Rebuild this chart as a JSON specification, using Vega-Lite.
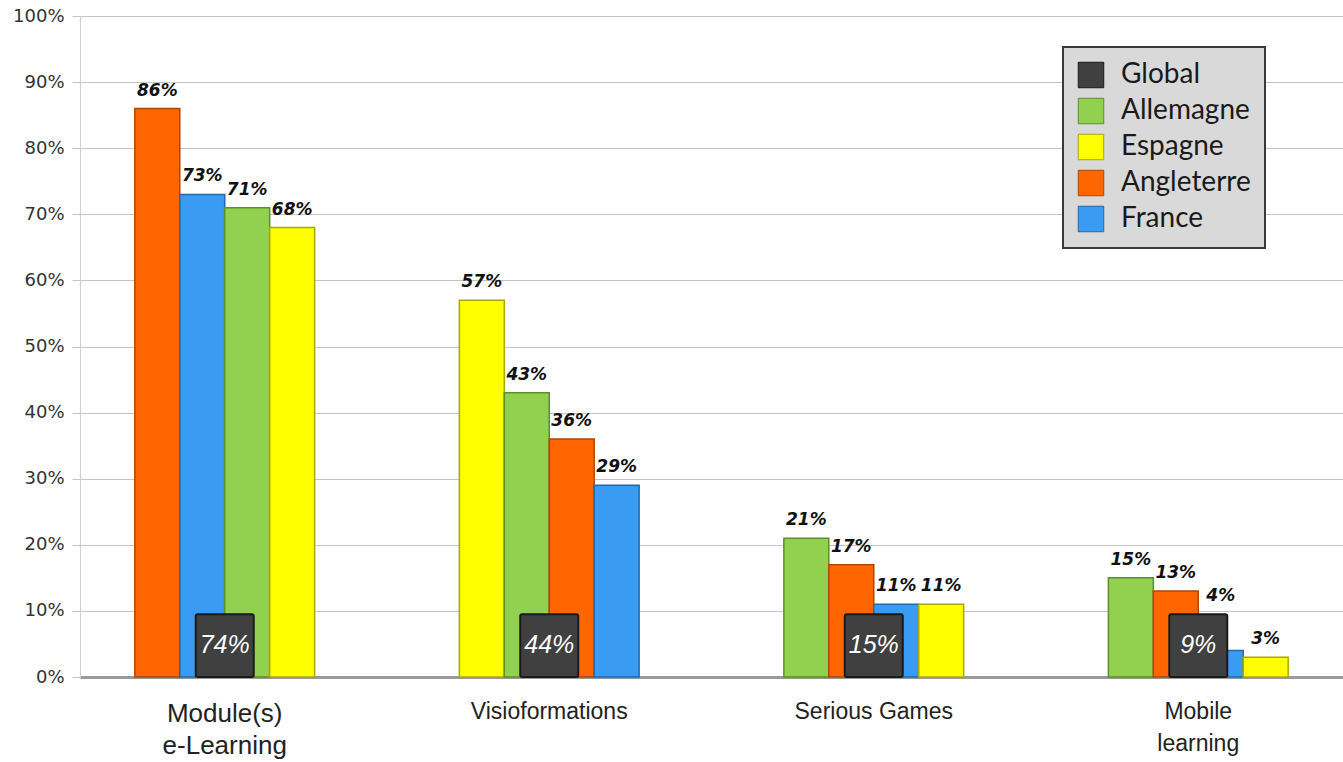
{
  "$schema": "https://vega.github.io/schema/vega-lite/v6.json",
  "width": 1263,
  "height": 661,
  "autosize": {"type": "none"},
  "padding": {"left": 80, "top": 16, "right": 0, "bottom": 85},
  "background": "white",
  "data": {"values": [
    {"categorie": "Module(s) e-Learning", "pays": "Angleterre", "valeur": 0.86},
    {"categorie": "Module(s) e-Learning", "pays": "France", "valeur": 0.73},
    {"categorie": "Module(s) e-Learning", "pays": "Allemagne", "valeur": 0.71},
    {"categorie": "Module(s) e-Learning", "pays": "Espagne", "valeur": 0.68},
    {"categorie": "Module(s) e-Learning", "pays": "Global", "valeur": 0.74},
    {"categorie": "Visioformations", "pays": "Espagne", "valeur": 0.57},
    {"categorie": "Visioformations", "pays": "Allemagne", "valeur": 0.43},
    {"categorie": "Visioformations", "pays": "Angleterre", "valeur": 0.36},
    {"categorie": "Visioformations", "pays": "France", "valeur": 0.29},
    {"categorie": "Visioformations", "pays": "Global", "valeur": 0.44},
    {"categorie": "Serious Games", "pays": "Allemagne", "valeur": 0.21},
    {"categorie": "Serious Games", "pays": "Angleterre", "valeur": 0.17},
    {"categorie": "Serious Games", "pays": "France", "valeur": 0.11},
    {"categorie": "Serious Games", "pays": "Espagne", "valeur": 0.11},
    {"categorie": "Serious Games", "pays": "Global", "valeur": 0.15},
    {"categorie": "Mobile learning", "pays": "Allemagne", "valeur": 0.15},
    {"categorie": "Mobile learning", "pays": "Angleterre", "valeur": 0.13},
    {"categorie": "Mobile learning", "pays": "France", "valeur": 0.04},
    {"categorie": "Mobile learning", "pays": "Espagne", "valeur": 0.03},
    {"categorie": "Mobile learning", "pays": "Global", "valeur": 0.09}
  ]},
  "encoding": {
    "x": {
      "field": "categorie", "type": "nominal", "sort": null,
      "scale": {"paddingInner": 0.446, "paddingOuter": 0.169},
      "axis": {
        "title": null,
        "labelAngle": 0,
        "labelFont": "Liberation Sans",
        "labelFontSize": {"condition": {"test": "datum.value == 'Module(s) e-Learning'", "value": 26}, "value": 23},
        "labelColor": "#222222",
        "labelPadding": 23,
        "labelLineHeight": 32,
        "ticks": false,
        "domainColor": "#9a9a9a",
        "domainWidth": 3,
        "labelExpr": "datum.value == 'Module(s) e-Learning' ? ['Module(s)', 'e-Learning'] : datum.value == 'Mobile learning' ? ['Mobile', 'learning'] : datum.value"
      }
    }
  },
  "layer": [
    {
      "transform": [
        {"filter": "datum.pays != 'Global'"},
        {"window": [{"op": "row_number", "as": "rang"}], "groupby": ["categorie"], "sort": [{"field": "valeur", "order": "descending"}, {"field": "pays", "order": "descending"}]}
      ],
      "mark": {"type": "bar", "strokeWidth": 1.5},
      "encoding": {
        "xOffset": {"field": "rang", "type": "ordinal", "scale": {"paddingInner": 0, "paddingOuter": 0}},
        "y": {
          "field": "valeur", "type": "quantitative",
          "scale": {"domain": [0, 1]},
          "axis": {
            "title": null, "format": ".0%", "values": [0, 0.1, 0.2, 0.3, 0.4, 0.5, 0.6, 0.7, 0.8, 0.9, 1],
            "labelFont": "DejaVu Sans", "labelFontSize": 18, "labelColor": "#333333", "labelPadding": 8,
            "gridColor": "#c4c4c4", "tickColor": "#c4c4c4", "tickSize": 8, "domainColor": "#d0d0d0"
          }
        },
        "color": {
          "field": "pays", "type": "nominal",
          "scale": {"domain": ["Global", "Allemagne", "Espagne", "Angleterre", "France"], "range": ["#404040", "#92D050", "#FFFF00", "#FF6600", "#3A9BF2"]},
          "legend": {"title": null}
        },
        "stroke": {
          "field": "pays", "type": "nominal",
          "scale": {"domain": ["Global", "Allemagne", "Espagne", "Angleterre", "France"], "range": ["#1a1a1a", "#5E8F2A", "#A8A800", "#B04600", "#1E6AB0"]},
          "legend": null
        }
      }
    },
    {
      "transform": [
        {"filter": "datum.pays != 'Global'"},
        {"window": [{"op": "row_number", "as": "rang"}], "groupby": ["categorie"], "sort": [{"field": "valeur", "order": "descending"}, {"field": "pays", "order": "descending"}]},
        {"filter": "!(datum.valeur < 0.095 && (datum.rang == 2 || datum.rang == 3))"}
      ],
      "mark": {"type": "text", "font": "DejaVu Sans", "fontSize": 17, "fontWeight": "bold", "fontStyle": "italic", "color": "#111111", "dy": -18},
      "encoding": {
        "xOffset": {"field": "rang", "type": "ordinal"},
        "y": {"field": "valeur", "type": "quantitative"},
        "text": {"field": "valeur", "type": "quantitative", "format": ".0%"}
      }
    },
    {
      "transform": [{"filter": "datum.pays == 'Global'"}],
      "mark": {"type": "bar", "width": 58, "strokeWidth": 2, "cornerRadius": 2},
      "encoding": {
        "y": {"datum": 0, "type": "quantitative"},
        "y2": {"datum": 0.095},
        "color": {"field": "pays", "type": "nominal"},
        "stroke": {"field": "pays", "type": "nominal"}
      }
    },
    {
      "transform": [
        {"filter": "datum.pays != 'Global'"},
        {"window": [{"op": "row_number", "as": "rang"}], "groupby": ["categorie"], "sort": [{"field": "valeur", "order": "descending"}, {"field": "pays", "order": "descending"}]},
        {"filter": "datum.valeur < 0.095 && (datum.rang == 2 || datum.rang == 3)"}
      ],
      "mark": {"type": "text", "font": "DejaVu Sans", "fontSize": 17, "fontWeight": "bold", "fontStyle": "italic", "color": "#111111", "dy": -18},
      "encoding": {
        "xOffset": {"field": "rang", "type": "ordinal"},
        "y": {"datum": 0.095, "type": "quantitative"},
        "text": {"field": "valeur", "type": "quantitative", "format": ".0%"}
      }
    },
    {
      "transform": [{"filter": "datum.pays == 'Global'"}],
      "mark": {"type": "text", "font": "Liberation Sans", "fontSize": 25, "fontStyle": "italic", "color": "white"},
      "encoding": {
        "y": {"datum": 0.048, "type": "quantitative"},
        "text": {"field": "valeur", "type": "quantitative", "format": ".0%"}
      }
    }
  ],
  "config": {
    "view": {"stroke": null},
    "legend": {
      "orient": "none",
      "legendX": 983,
      "legendY": 31,
      "fillColor": "#d9d9d9",
      "strokeColor": "#3a3a3a",
      "strokeWidth": 2,
      "padding": 14,
      "symbolType": "square",
      "symbolSize": 650,
      "symbolStrokeWidth": 1,
      "labelFont": "Lato",
      "labelFontSize": 28,
      "labelColor": "#1a1a1a",
      "labelOffset": 16,
      "rowPadding": 6,
      "labelLimit": 400
    }
  }
}
